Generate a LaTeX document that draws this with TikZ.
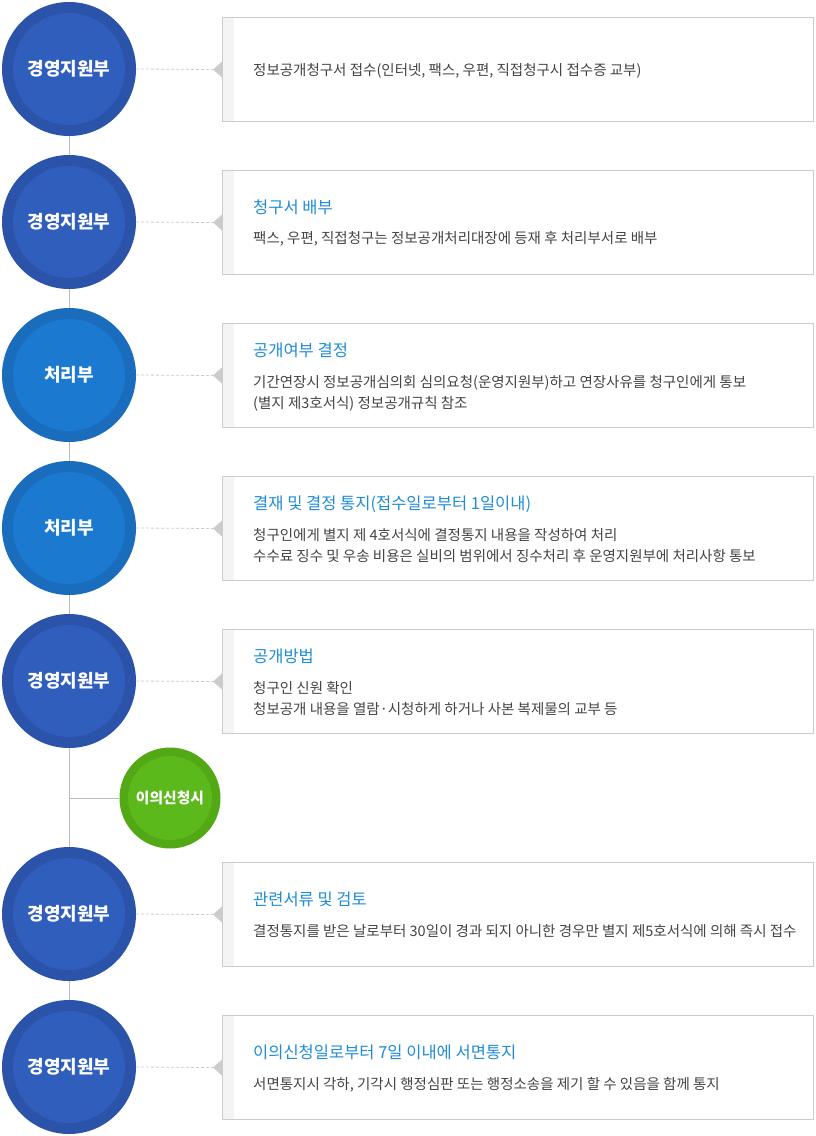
\documentclass[tikz,border=0pt]{standalone}
\usepackage{fontspec}
\setmainfont{Noto Sans CJK KR}
\definecolor{ringB}{HTML}{2B53AA}
\definecolor{innerB}{HTML}{2F5EBC}
\definecolor{ringP}{HTML}{1A6CBD}
\definecolor{innerP}{HTML}{1B7ACF}
\definecolor{ringG}{HTML}{52A815}
\definecolor{innerG}{HTML}{5CB91B}
\definecolor{boxline}{HTML}{CCCCCC}
\definecolor{strip}{HTML}{F4F4F4}
\definecolor{titleblue}{HTML}{1F8DD6}
\definecolor{bodytext}{HTML}{444444}
\definecolor{vline}{HTML}{BBBBBB}
\begin{document}
\begin{tikzpicture}[x=1pt,y=-1pt,
  disc/.style={circle, minimum size=134pt, inner sep=0pt, text=white,
    font=\fontsize{18}{20}\selectfont\bfseries},
  discB/.style={disc, fill=ringB, path picture={\fill[innerB] (path picture bounding box.center) circle (56pt);}},
  discP/.style={disc, fill=ringP, path picture={\fill[innerP] (path picture bounding box.center) circle (56pt);}},
  discG/.style={circle, minimum size=101pt, inner sep=0pt, text=white,
    font=\fontsize{14.8}{16}\selectfont\bfseries,
    fill=ringG, path picture={\fill[innerG] (path picture bounding box.center) circle (42pt);}},
  infobox/.style={rectangle, draw=boxline, line width=1pt, fill=white, anchor=north west,
    minimum width=591pt, minimum height=104pt, inner sep=0pt,
    path picture={\fill[strip] ([xshift=0.5pt]path picture bounding box.north west) rectangle ([xshift=11pt]path picture bounding box.south west);}},
  pointer/.style={fill=boxline},
  dashconn/.style={draw=boxline, line width=0.8pt, dash pattern=on 3pt off 2pt},
  trunk/.style={draw=vline, line width=1pt},
  ttl/.style={anchor=base west, inner sep=0pt, text=titleblue, font=\fontsize{16.5}{18}\selectfont},
  txt/.style={anchor=base west, inner sep=0pt, text=bodytext, font=\fontsize{14.5}{16}\selectfont}
]
\useasboundingbox (0,0) rectangle (815,1136);
\fill[white] (0,0) rectangle (815,1136);

% trunk line
\coordinate (top) at (69,69);
\coordinate (bot) at (69,1067);
\coordinate (branch) at (69,798);
\draw[trunk] (top) -- (bot);

% circles
\node[discB] (c1) at (69,69) {경영지원부};
\node[discB] (c2) at (69,222) {경영지원부};
\node[discP] (c3) at (69,375) {처리부};
\node[discP] (c4) at (69,528) {처리부};
\node[discB] (c5) at (69,681) {경영지원부};
\node[discG] (g) at (170,798) {이의신청시};
\node[discB] (c6) at (69,914) {경영지원부};
\node[discB] (c7) at (69,1067) {경영지원부};
\draw[trunk] (branch) -- (g.west);

% boxes
\node[infobox] (b1) at (222,17) {};
\node[infobox] (b2) at (222,170) {};
\node[infobox] (b3) at (222,323) {};
\node[infobox] (b4) at (222,476) {};
\node[infobox] (b5) at (222,629) {};
\node[infobox] (b6) at (222,862) {};
\node[infobox] (b7) at (222,1015) {};

% pointers and connectors
\foreach \i in {1,...,7}{
  \coordinate (p\i) at ([xshift=-9pt]b\i.west);
  \fill[pointer] ([yshift=-8pt]b\i.west) -- (p\i) -- ([yshift=8pt]b\i.west) -- cycle;
  \draw[dashconn] (c\i.east) -- (p\i);
}

% texts
\node[txt] (t1) at (253,75.5) {정보공개청구서 접수(인터넷, 팩스, 우편, 직접청구시 접수증 교부)};

\node[ttl] (h2) at (253,213) {청구서 배부};
\node[txt] (t2) at (253,243.5) {팩스, 우편, 직접청구는 정보공개처리대장에 등재 후 처리부서로 배부};

\node[ttl] (h3) at (253,356) {공개여부 결정};
\node[txt] (t3a) at (253,387) {기간연장시 정보공개심의회 심의요청(운영지원부)하고 연장사유를 청구인에게 통보};
\node[txt] (t3b) at (253,408) {(별지 제3호서식) 정보공개규칙 참조};

\node[ttl] (h4) at (253,509) {결재 및 결정 통지(접수일로부터 1일이내)};
\node[txt] (t4a) at (253,540) {청구인에게 별지 제 4호서식에 결정통지 내용을 작성하여 처리};
\node[txt] (t4b) at (253,561) {수수료 징수 및 우송 비용은 실비의 범위에서 징수처리 후 운영지원부에 처리사항 통보};

\node[ttl] (h5) at (253,662) {공개방법};
\node[txt] (t5a) at (253,693) {청구인 신원 확인};
\node[txt] (t5b) at (253,714) {청보공개 내용을 열람·시청하게 하거나 사본 복제물의 교부 등};

\node[ttl] (h6) at (253,905) {관련서류 및 검토};
\node[txt] (t6) at (253,936.5) {결정통지를 받은 날로부터 30일이 경과 되지 아니한 경우만 별지 제5호서식에 의해 즉시 접수};

\node[ttl] (h7) at (253,1058) {이의신청일로부터 7일 이내에 서면통지};
\node[txt] (t7) at (253,1089) {서면통지시 각하, 기각시 행정심판 또는 행정소송을 제기 할 수 있음을 함께 통지};
\end{tikzpicture}
\end{document}
